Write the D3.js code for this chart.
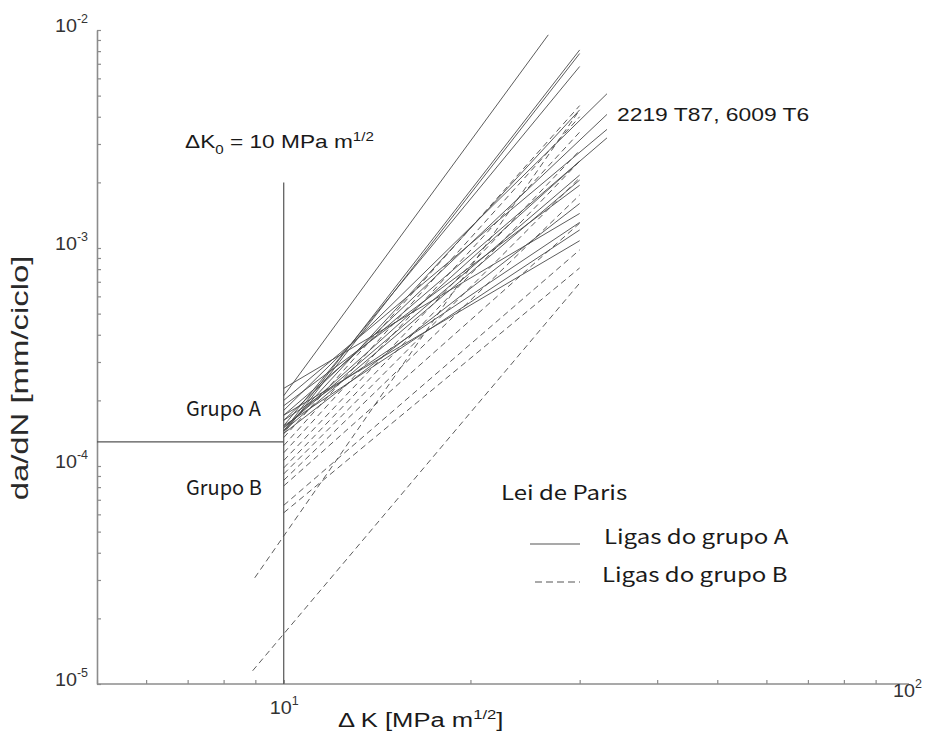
<!DOCTYPE html>
<html>
<head>
<meta charset="utf-8">
<script src="https://cdn.jsdelivr.net/npm/d3@7"></script>
<style>
body { margin: 0; background: #fff; }
</style>
</head>
<body>
<div id="chart"></div>
<script>
// Paris-law lines: [dK start, da/dN start, dK end, da/dN end]
const groupA = [
    [10, 2.10e-4, 26.7, 9.5e-3],
    [10, 1.45e-4, 30, 8.1e-3],
    [10, 1.41e-4, 30, 7.8e-3],
    [10, 1.53e-4, 30, 6.8e-3],
    [10, 1.80e-4, 33.2, 5.1e-3],
    [10, 1.62e-4, 33.2, 4.1e-3],
    [10, 2.00e-4, 33.2, 3.5e-3],
    [10, 1.71e-4, 33.2, 3.2e-3],
    [10, 1.45e-4, 30, 4.3e-3],
    [10, 1.50e-4, 30, 2.5e-3],
    [10, 1.50e-4, 30, 2.16e-3],
    [10, 1.45e-4, 30, 2.05e-3],
    [10, 1.89e-4, 30, 1.94e-3],
    [10, 1.41e-4, 30, 1.60e-3],
    [10, 2.27e-4, 30, 1.44e-3],
    [10, 1.62e-4, 30, 1.31e-3],
    [10, 1.53e-4, 30, 1.21e-3],
    [10, 1.71e-4, 30, 1.08e-3]
];
const groupB = [
    [10, 1.35e-4, 30, 4.5e-3],
    [10, 1.24e-4, 30, 4.0e-3],
    [10, 1.15e-4, 30, 3.4e-3],
    [10, 1.06e-4, 30, 2.8e-3],
    [10, 9.8e-5, 30, 2.5e-3],
    [10, 9.2e-5, 30, 2.1e-3],
    [10, 8.6e-5, 30, 1.75e-3],
    [10, 8.1e-5, 30, 1.3e-3],
    [10, 6.6e-5, 30, 9.8e-4],
    [10, 6.1e-5, 30, 8.1e-4],
    [8.98, 3.07e-5, 30, 4.3e-3],
    [8.91, 1.15e-5, 30, 6.9e-4]
];

const yMajor = [1e-5, 1e-4, 1e-3, 1e-2];
const yExp = ['-5', '-4', '-3', '-2'];
const xMajor = [10, 100];
const xExp = ['1', '2'];

const k0 = 10;          // threshold line
const k0Top = 2e-3;
const groupSplit = 1.29e-4;

const width = 925, height = 731;
const arial = 'Liberation Sans, Arial, sans-serif';
const cjk = '"Noto Sans CJK JP", "Noto Sans", sans-serif';
const lineColor = '#4a4a4a';
const axisColor = '#8c8c8c';

const svg = d3.select('#chart').append('svg')
    .attr('width', width)
    .attr('height', height);

const x = d3.scaleLog().domain([5, 100]).range([97, 904]);
const y = d3.scaleLog().domain([1e-5, 1e-2]).range([684, 30]);

// minor ticks on each decade
const xMinor = [];
for (let d = 1; d <= 10; d *= 10) {
    for (let m = 1; m <= 9; m++) {
        const v = m * d;
        if (v >= 5 && v <= 100) xMinor.push(v);
    }
}
const yMinor = [];
for (let d = 1e-5; d < 1e-2 * 1.01; d *= 10) {
    for (let m = 1; m <= 9; m++) {
        const v = m * d;
        if (v <= 1e-2 * 1.0001) yMinor.push(v);
    }
}

// left axis
const gy = svg.append('g')
    .attr('transform', `translate(${x(5)},0)`)
    .call(d3.axisLeft(y).tickValues(yMinor).tickSize(-4).tickSizeOuter(0).tickFormat(''));
gy.select('.domain').attr('stroke', axisColor).attr('stroke-width', 1.6);
gy.selectAll('.tick line').attr('stroke', axisColor).attr('stroke-width', 1.2);

// bottom axis
const gx = svg.append('g')
    .attr('transform', `translate(0,${y(1e-5)})`)
    .call(d3.axisBottom(x).tickValues(xMinor).tickSize(-4).tickSizeOuter(0).tickFormat(''));
gx.select('.domain').attr('stroke', axisColor).attr('stroke-width', 1.6)
    .attr('d', `M${x(5)},0H${x(100) + 5}`);
gx.selectAll('.tick line').attr('stroke', axisColor).attr('stroke-width', 1.2);

// text helper, stretched horizontally like the source picture
const addText = (tx, ty, font, size, sx, anchor) => svg.append('text')
    .attr('transform', `translate(${tx},${ty}) scale(${sx},1)`)
    .attr('text-anchor', anchor || 'start')
    .attr('font-family', font)
    .attr('font-size', size)
    .attr('fill', '#1a1a1a');

// y tick labels
yMajor.forEach((v, i) => {
    const t = addText(x(5) - 9, y(v) + 2, arial, 19, 1.04, 'end').attr('fill', '#333');
    t.append('tspan').text('10');
    t.append('tspan').attr('dy', -9).attr('font-size', 12).text(yExp[i]);
});

// x tick labels
xMajor.forEach((v, i) => {
    const xPos = i === 0 ? x(v) - 14 : x(v) - 11;
    const yPos = i === 0 ? y(1e-5) + 30 : y(1e-5) + 13;
    const t = addText(xPos, yPos, arial, 19, 1.04).attr('fill', '#333');
    t.append('tspan').text('10');
    t.append('tspan').attr('dy', -9).attr('font-size', 12).text(xExp[i]);
});

// threshold and group split lines
svg.append('line')
    .attr('x1', x(k0)).attr('x2', x(k0))
    .attr('y1', y(k0Top)).attr('y2', y(1e-5))
    .attr('stroke', '#555').attr('stroke-width', 1.2);
svg.append('line')
    .attr('x1', x(5)).attr('x2', x(k0))
    .attr('y1', y(groupSplit)).attr('y2', y(groupSplit))
    .attr('stroke', '#555').attr('stroke-width', 1.2);

// Paris lines
const drawLines = (data, dash) => {
    svg.append('g').selectAll('line')
        .data(data)
        .enter()
        .append('line')
        .attr('x1', d => x(d[0]))
        .attr('y1', d => y(d[1]))
        .attr('x2', d => x(d[2]))
        .attr('y2', d => y(d[3]))
        .attr('stroke', lineColor)
        .attr('stroke-width', 0.9)
        .attr('stroke-dasharray', dash);
};
drawLines(groupB, '6,4');
drawLines(groupA, null);

// annotations
const k0Label = addText(185, 148, arial, 18, 1.26);
k0Label.append('tspan').text('\u0394K');
k0Label.append('tspan').attr('dy', 6).attr('font-size', 12).text('0');
k0Label.append('tspan').attr('dy', -6).text(' = 10 MPa m');
k0Label.append('tspan').attr('dy', -7).attr('font-size', 12).text('1/2');

addText(617, 121, arial, 18, 1.27).text('2219 T87, 6009 T6');

addText(186, 416, cjk, 20, 1).text('Grupo A');
addText(186, 495, cjk, 20, 1).text('Grupo B');

// legend
addText(501, 500, cjk, 20, 1.2).text('Lei de Paris');
const legendItems = [
    {label: 'Ligas do grupo A', dash: null, x1: 530, tx: 604, y: 544},
    {label: 'Ligas do grupo B', dash: '7,4', x1: 535, tx: 602, y: 582}
];
legendItems.forEach(d => {
    svg.append('line')
        .attr('x1', d.x1).attr('x2', 580)
        .attr('y1', d.y).attr('y2', d.y)
        .attr('stroke', '#555').attr('stroke-width', 1.2)
        .attr('stroke-dasharray', d.dash);
    addText(d.tx, d.y, cjk, 20, 1.2).text(d.label);
});

// axis titles
const xTitle = addText(338, 727, arial, 20, 1.28);
xTitle.append('tspan').text('\u0394 K [MPa m');
xTitle.append('tspan').attr('dy', -8).attr('font-size', 13).text('1/2');
xTitle.append('tspan').attr('dy', 8).text(']');

svg.append('text')
    .attr('transform', 'translate(28,378) rotate(-90) scale(1.37,1)')
    .attr('text-anchor', 'middle')
    .attr('font-family', arial).attr('font-size', 24).attr('fill', '#2a2a2a')
    .text('da/dN [mm/ciclo]');
</script>
</body>
</html>
